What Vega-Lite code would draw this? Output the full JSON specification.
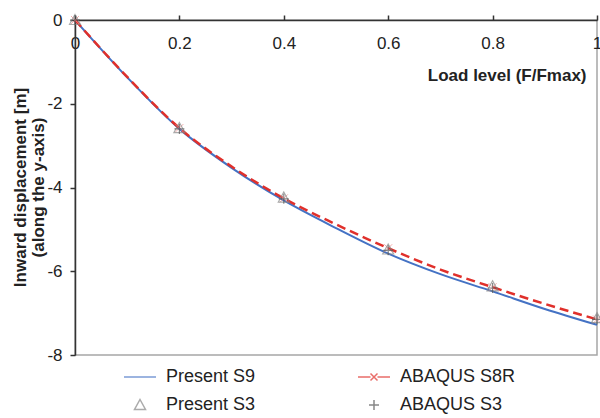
{
  "$schema": "https://vega.github.io/schema/vega-lite/v6.json",
  "width": 522,
  "height": 335,
  "autosize": "none",
  "padding": {"left": 75, "top": 20, "right": 3, "bottom": 63},
  "background": "white",
  "config": {
    "font": "Liberation Sans",
    "view": {"stroke": "#a6a6a6", "strokeWidth": 1.5}
  },
  "datasets": {
    "lines": [
      {"series": "Present S9", "x": 0, "y": 0},
      {"series": "Present S9", "x": 0.1, "y": -1.37},
      {"series": "Present S9", "x": 0.2, "y": -2.6},
      {"series": "Present S9", "x": 0.3, "y": -3.53},
      {"series": "Present S9", "x": 0.4, "y": -4.31},
      {"series": "Present S9", "x": 0.5, "y": -4.97},
      {"series": "Present S9", "x": 0.6, "y": -5.58},
      {"series": "Present S9", "x": 0.7, "y": -6.07},
      {"series": "Present S9", "x": 0.8, "y": -6.48},
      {"series": "Present S9", "x": 0.9, "y": -6.9},
      {"series": "Present S9", "x": 1.0, "y": -7.28},
      {"series": "ABAQUS S8R", "x": 0, "y": 0},
      {"series": "ABAQUS S8R", "x": 0.1, "y": -1.36},
      {"series": "ABAQUS S8R", "x": 0.2, "y": -2.58},
      {"series": "ABAQUS S8R", "x": 0.3, "y": -3.5},
      {"series": "ABAQUS S8R", "x": 0.4, "y": -4.26},
      {"series": "ABAQUS S8R", "x": 0.5, "y": -4.88},
      {"series": "ABAQUS S8R", "x": 0.6, "y": -5.45},
      {"series": "ABAQUS S8R", "x": 0.7, "y": -5.96},
      {"series": "ABAQUS S8R", "x": 0.8, "y": -6.38},
      {"series": "ABAQUS S8R", "x": 0.9, "y": -6.78},
      {"series": "ABAQUS S8R", "x": 1.0, "y": -7.15}
    ],
    "s8rmarks": [
      {"x": 0, "y": 0},
      {"x": 0.2, "y": -2.58},
      {"x": 0.4, "y": -4.26},
      {"x": 0.6, "y": -5.45},
      {"x": 0.8, "y": -6.38},
      {"x": 1.0, "y": -7.15}
    ],
    "markers": [
      {"series": "Present S3", "x": 0, "y": 0},
      {"series": "Present S3", "x": 0.2, "y": -2.58},
      {"series": "Present S3", "x": 0.4, "y": -4.24},
      {"series": "Present S3", "x": 0.6, "y": -5.48},
      {"series": "Present S3", "x": 0.8, "y": -6.36},
      {"series": "Present S3", "x": 1.0, "y": -7.12},
      {"series": "ABAQUS S3", "x": 0, "y": 0},
      {"series": "ABAQUS S3", "x": 0.2, "y": -2.6},
      {"series": "ABAQUS S3", "x": 0.4, "y": -4.27},
      {"series": "ABAQUS S3", "x": 0.6, "y": -5.5},
      {"series": "ABAQUS S3", "x": 0.8, "y": -6.4},
      {"series": "ABAQUS S3", "x": 1.0, "y": -7.15}
    ]
  },
  "encoding": {
    "x": {
      "field": "x",
      "type": "quantitative",
      "scale": {"domain": [0, 1], "nice": false},
      "axis": {
        "orient": "top",
        "values": [0, 0.2, 0.4, 0.6, 0.8, 1],
        "labelExpr": "'' + datum.value",
        "labelBaseline": "top",
        "labelPadding": -20,
        "labelFlush": false,
        "labelFontSize": 17,
        "labelColor": "#222",
        "tickSize": 5,
        "tickColor": "#333",
        "tickWidth": 1.5,
        "domainColor": "#333",
        "domainWidth": 1.5,
        "grid": false,
        "title": "Load level (F/Fmax)",
        "titleFontSize": 17,
        "titleFontWeight": "bold",
        "titleColor": "#222",
        "titleX": 511,
        "titleY": 55,
        "titleAlign": "right",
        "titleBaseline": "middle"
      }
    },
    "y": {
      "field": "y",
      "type": "quantitative",
      "scale": {"domain": [-8, 0], "nice": false},
      "axis": {
        "values": [-8, -6, -4, -2, 0],
        "labelExpr": "'' + datum.value",
        "labelPadding": 8,
        "labelFontSize": 17,
        "labelColor": "#222",
        "tickSize": 5,
        "tickColor": "#333",
        "tickWidth": 1.5,
        "domainColor": "#333",
        "domainWidth": 1.5,
        "grid": false,
        "title": ["Inward displacement [m]", "(along the y-axis)"],
        "titleFontSize": 17,
        "titleFontWeight": "bold",
        "titleColor": "#222",
        "titleLineHeight": 18,
        "titleX": -55,
        "titleY": 167,
        "titleAngle": -90,
        "titleAlign": "center",
        "titleBaseline": "middle"
      }
    }
  },
  "layer": [
    {
      "data": {"name": "lines"},
      "transform": [{"filter": "datum.series === 'Present S9'"}],
      "mark": {"type": "line", "color": "#4472C4", "strokeWidth": 2, "interpolate": "monotone"}
    },
    {
      "data": {"name": "lines"},
      "transform": [{"filter": "datum.series === 'ABAQUS S8R'"}],
      "mark": {"type": "line", "color": "#E0302B", "strokeWidth": 2.5, "strokeDash": [9, 5], "interpolate": "monotone"}
    },
    {
      "data": {"name": "s8rmarks"},
      "mark": {"type": "point", "shape": "M-0.8,-0.8L0.8,0.8M-0.8,0.8L0.8,-0.8", "size": 100, "filled": false, "color": "#F08C8C", "strokeWidth": 1}
    },
    {
      "data": {"name": "markers"},
      "mark": {"type": "point", "size": 100, "filled": false, "strokeWidth": 1.2},
      "encoding": {
        "color": {
          "field": "series",
          "type": "nominal",
          "scale": {
            "domain": ["Present S9", "Present S3", "ABAQUS S8R", "ABAQUS S3"],
            "range": ["#4472C4", "#888888", "#E0302B", "#555555"]
          },
          "legend": {
            "title": null,
            "orient": "none",
            "legendX": 56,
            "legendY": 348,
            "columns": 2,
            "columnPadding": 99,
            "rowPadding": 10,
            "padding": 0,
            "labelFontSize": 18,
            "labelColor": "#222",
            "labelOffset": 17,
            "symbolSize": 100,
            "symbolStrokeWidth": 1.5
          }
        },
        "shape": {
          "field": "series",
          "type": "nominal",
          "scale": {
            "domain": ["Present S9", "Present S3", "ABAQUS S8R", "ABAQUS S3"],
            "range": [
              "M-3.2,0H3.2",
              "M0,-1.1L1.1,0.9H-1.1Z",
              "M-3.2,0H-0.7M0.7,0H3.2M-0.7,-0.7L0.7,0.7M-0.7,0.7L0.7,-0.7",
              "M-1,0H1M0,-1V1"
            ]
          }
        }
      }
    }
  ]
}
